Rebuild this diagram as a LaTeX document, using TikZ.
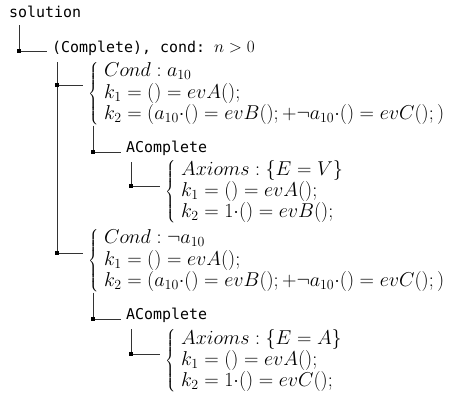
\documentclass[tikz,border=0pt]{standalone}
\usepackage{graphicx}
\usepackage{fontspec}
\setmonofont{DejaVu Sans Mono}
\newcommand{\casebox}[1]{\scalebox{1.165}{$\left\{\begin{array}{@{\;}l}#1\end{array}\right.$}}
\begin{document}
\begin{tikzpicture}[x=1bp,y=-1bp,
    every node/.style={anchor=west,inner xsep=5bp,inner ysep=0pt},
    leaf/.style={font=\fontsize{15}{18}\selectfont\ttfamily,inner ysep=7bp},
    cases/.style={font=\fontsize{17.28}{17.6}\selectfont,inner xsep=0pt},
    branch/.style={line width=0.9bp,black!80},
    joint/.style={fill=black}]
\useasboundingbox (0,0) rectangle (450,398);

% Tree entries
\node[leaf] (root) at (4,12) {solution};
\node[leaf] (cmp) at (47,48) {(Complete), cond: {\fontsize{17.28}{20}\selectfont$n > 0$}};
\node[cases] (condA) at (88,94) {\casebox{
    Cond : a_{10}\\
    k_1 = () = evA();\\
    k_2 = (a_{10}{\cdot}() = evB(); + \neg a_{10}{\cdot}() = evC();)}};
\node[leaf] (acmpA) at (121,148) {AComplete};
\node[cases] (axA) at (165,192) {\casebox{
    Axioms : \{E = V\}\\
    k_1 = () = evA();\\
    k_2 = 1{\cdot}() = evB();}};
\node[cases] (condB) at (88,261) {\casebox{
    Cond : \neg a_{10}\\
    k_1 = () = evA();\\
    k_2 = (a_{10}{\cdot}() = evB(); + \neg a_{10}{\cdot}() = evC();)}};
\node[leaf] (acmpB) at (121,315) {AComplete};
\node[cases] (axB) at (165,361) {\casebox{
    Axioms : \{E = A\}\\
    k_1 = () = evA();\\
    k_2 = 1{\cdot}() = evC();}};

% Joints
\coordinate (j0) at (19,51);
\coordinate (j1) at (57,85);
\coordinate (j2) at (93,152);
\coordinate (j3) at (131,186);
\coordinate (j4) at (57,253);
\coordinate (j5) at (93,319);
\coordinate (j6) at (131,354);

% Branches
\draw[branch] (j0 |- root.south) -- (j0) -- (j0 -| cmp.west);
\draw[branch] (j1 |- cmp.south) -- (j4) -- ([xshift=-5bp]j4 -| condB.west);
\draw[branch] (j1) -- ([xshift=-5bp]j1 -| condA.west);
\draw[branch] (j2 |- condA.south) -- (j2) -- (j2 -| acmpA.west);
\draw[branch] (j3 |- acmpA.south) -- (j3) -- ([xshift=-5bp]j3 -| axA.west);
\draw[branch] (j5 |- condB.south) -- (j5) -- (j5 -| acmpB.west);
\draw[branch] (j6 |- acmpB.south) -- (j6) -- ([xshift=-5bp]j6 -| axB.west);
\foreach \j in {j0,j1,j2,j3,j4,j5,j6}
  \fill[joint] ([shift={(-2.2,-2.2)}]\j) rectangle ([shift={(2.2,2.2)}]\j);
\end{tikzpicture}
\end{document}
